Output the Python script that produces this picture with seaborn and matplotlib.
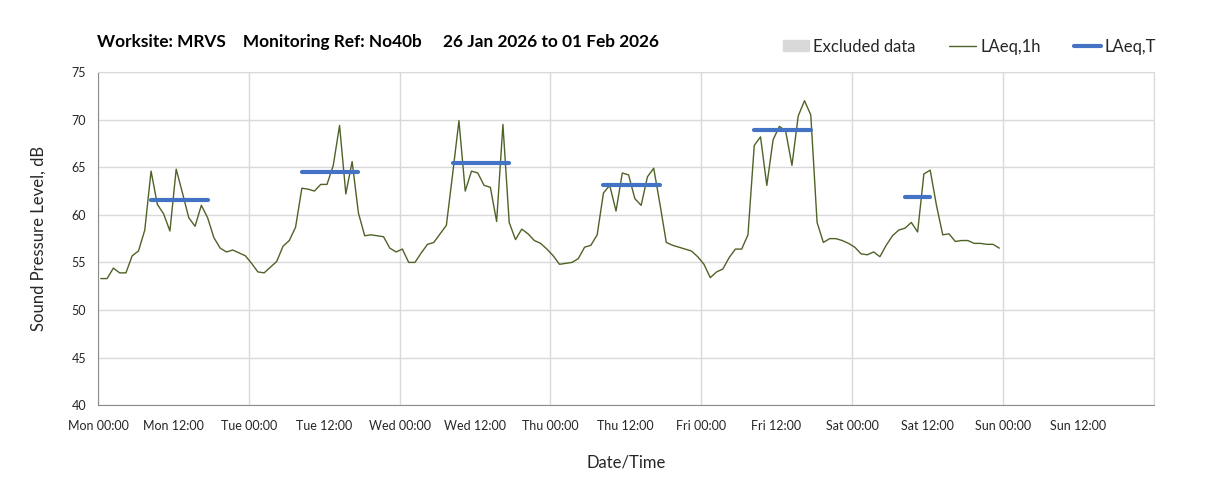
import pandas as pd
import numpy as np
import seaborn as sns
import matplotlib.pyplot as plt
import matplotlib.dates as mdates
from matplotlib.patches import Patch
from matplotlib.lines import Line2D
from matplotlib.ticker import FuncFormatter

# Hourly LAeq,1h values (dB), one list per day
mon = [53.3, 53.3, 54.4, 53.9, 53.9, 55.7, 56.2, 58.4, 64.6, 61.1, 60.1, 58.3,
       64.8, 62.3, 59.7, 58.8, 61.0, 59.7, 57.6, 56.5, 56.1, 56.3, 56.0, 55.7]
tue = [54.9, 54.0, 53.9, 54.5, 55.1, 56.7, 57.3, 58.7, 62.8, 62.7, 62.5, 63.2,
       63.2, 65.2, 69.4, 62.2, 65.6, 60.2, 57.8, 57.9, 57.8, 57.7, 56.5, 56.1]
wed = [56.4, 55.0, 55.0, 56.0, 56.9, 57.1, 58.0, 58.9, 64.3, 69.9, 62.5, 64.6,
       64.4, 63.1, 62.9, 59.3, 69.5, 59.2, 57.4, 58.5, 58.0, 57.3, 57.0, 56.4]
thu = [55.7, 54.8, 54.9, 55.0, 55.4, 56.6, 56.8, 57.9, 62.3, 63.1, 60.4, 64.4,
       64.2, 61.7, 61.0, 64.0, 64.9, 61.1, 57.1, 56.8, 56.6, 56.4, 56.2, 55.6]
fri = [54.8, 53.4, 54.0, 54.3, 55.5, 56.4, 56.4, 57.9, 67.3, 68.2, 63.1, 67.9,
       69.3, 68.8, 65.2, 70.4, 72.0, 70.5, 59.2, 57.1, 57.5, 57.5, 57.3, 57.0]
sat = [56.6, 55.9, 55.8, 56.1, 55.6, 56.8, 57.8, 58.4, 58.6, 59.2, 58.2, 64.3,
       64.7, 61.0, 57.9, 58.0, 57.2, 57.3, 57.3, 57.0, 57.0, 56.9, 56.9, 56.5]

# LAeq,T over the daytime period of each day
laeq_t = [61.6, 64.5, 65.4, 63.1, 68.9, 61.9]
period_start = [8, 8, 8, 8, 8, 8]
period_end = [17, 17, 17, 17, 17, 12]

excluded_periods = []  # no excluded data this week

start = pd.Timestamp('2026-01-26 00:00')
end = pd.Timestamp('2026-02-02 00:00')

levels = mon + tue + wed + thu + fri + sat
times = pd.date_range(start + pd.Timedelta(minutes=27), periods=len(levels), freq='h')
df = pd.DataFrame({'time': times, 'level': levels})

rows = []
for d, (lv, s, e) in enumerate(zip(laeq_t, period_start, period_end)):
    for h in (s, e):
        rows.append({'day': d, 'time': start + pd.Timedelta(days=d, hours=h, minutes=27), 'level': lv})
df_t = pd.DataFrame(rows)

sns.set_style('white')
plt.rcParams['font.family'] = ['Lato', 'DejaVu Sans']

fig = plt.figure(figsize=(12.05, 4.91), dpi=100)
ax = fig.add_axes([0.0813, 0.175, 0.876, 0.678])

grid_c = '#d9d9d9'
for a, b in excluded_periods:
    ax.axvspan(a, b, color=grid_c)

sns.lineplot(data=df, x='time', y='level', ax=ax, color='#4F6228', lw=1.0)
sns.lineplot(data=df_t, x='time', y='level', units='day', estimator=None, ax=ax,
             color='#4472C4', lw=3)

ax.set_xlim(start, end)
ax.set_ylim(40, 75)
ax.set_yticks(np.arange(40, 76, 5))

ax.xaxis.set_major_locator(mdates.HourLocator(byhour=[0]))
ax.xaxis.set_minor_locator(mdates.HourLocator(byhour=[12]))
fmt = FuncFormatter(lambda v, p: '' if mdates.num2date(v).replace(tzinfo=None) >= end
                    else mdates.num2date(v).strftime('%a %H:%M'))
ax.xaxis.set_major_formatter(fmt)
ax.xaxis.set_minor_formatter(fmt)

ax.grid(True, which='major', color=grid_c, lw=1)
ax.set_axisbelow(True)
for s in ['top', 'right']:
    ax.spines[s].set_color(grid_c)
for s in ['left', 'bottom']:
    ax.spines[s].set_color('#8c8c8c')

ax.tick_params(axis='both', which='both', direction='out', colors='#8c8c8c',
               labelcolor='#262626', labelsize=9)
ax.tick_params(axis='x', which='major', length=6, pad=5)
ax.tick_params(axis='x', which='minor', length=3, pad=8)
ax.tick_params(axis='y', length=5)

ax.set_xlabel('Date/Time', fontsize=12, color='#262626', labelpad=16)
ax.set_ylabel('Sound Pressure Level, dB', fontsize=12, color='#262626', labelpad=18)

fig.text(0.0805, 0.905, 'Worksite: MRVS    Monitoring Ref: No40b     26 Jan 2026 to 01 Feb 2026',
         fontsize=12.4, fontweight='bold', color='black')

handles = [Patch(color=grid_c, label='Excluded data'),
           Line2D([], [], color='#4F6228', lw=1, label='LAeq,1h'),
           Line2D([], [], color='#4472C4', lw=3, label='LAeq,T')]
fig.legend(handles=handles, loc='center right', bbox_to_anchor=(0.972, 0.905), ncol=3,
           frameon=False, fontsize=12, handlelength=1.6, handleheight=0.6,
           handletextpad=0.25, columnspacing=2.0, labelcolor='#262626')

fig.savefig('out.png', dpi=100)
